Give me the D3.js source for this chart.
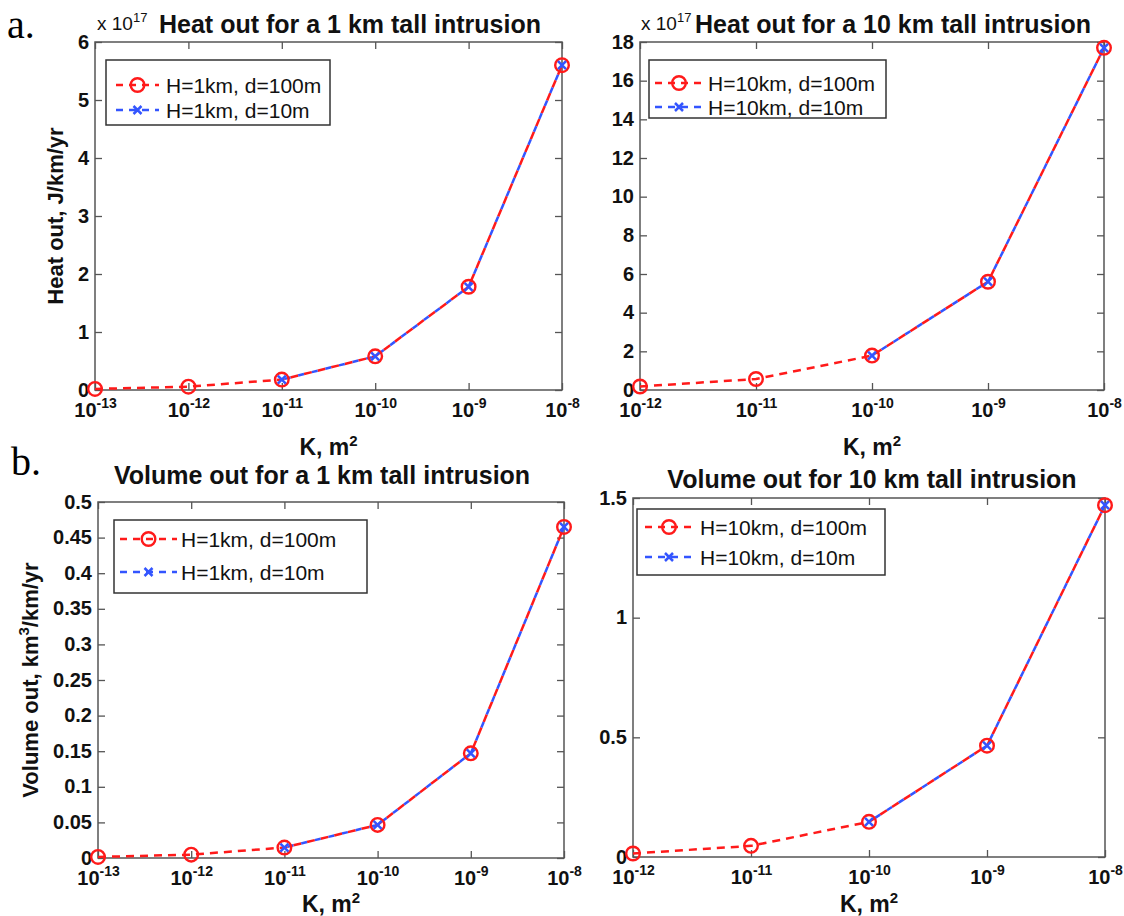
<!DOCTYPE html>
<html>
<head>
<meta charset="utf-8">
<script src="https://cdn.jsdelivr.net/npm/d3@7"></script>
<style>
  body { margin: 0; background: #fff; }
  svg { font-family: "Liberation Sans", Arial, sans-serif; }
</style>
</head>
<body>
<svg id="chart" width="1124" height="916"></svg>
<script>
// K values (m^2) and results
const kH1 = [1e-13, 1e-12, 1e-11, 1e-10, 1e-9, 1e-8];
const kH10 = [1e-12, 1e-11, 1e-10, 1e-9, 1e-8];
const kH1d10 = [1e-11, 1e-10, 1e-9, 1e-8];
const kH10d10 = [1e-10, 1e-9, 1e-8];

// heat out, x 10^17 J/km/yr
const heatH1d100 = [0.018, 0.057, 0.18, 0.58, 1.78, 5.6];
const heatH1d10 = [0.18, 0.58, 1.78, 5.6];
const heatH10d100 = [0.18, 0.57, 1.78, 5.6, 17.7];
const heatH10d10 = [1.78, 5.6, 17.7];

// volume out, km^3/km/yr
const volH1d100 = [0.0015, 0.0047, 0.0147, 0.0465, 0.147, 0.465];
const volH1d10 = [0.0147, 0.0465, 0.147, 0.465];
const volH10d100 = [0.0147, 0.0465, 0.147, 0.465, 1.47];
const volH10d10 = [0.147, 0.465, 1.47];

// tick values
const xTicksH1 = [1e-13, 1e-12, 1e-11, 1e-10, 1e-9, 1e-8];
const xTicksH10 = [1e-12, 1e-11, 1e-10, 1e-9, 1e-8];
const yTicksHeat1 = d3.range(0, 7, 1);
const yTicksHeat10 = d3.range(0, 20, 2);
const yTicksVol1 = d3.range(0, 11).map(i => i * 0.05);
const yTicksVol10 = [0, 0.5, 1, 1.5];

const legendH1 = ['H=1km, d=100m', 'H=1km, d=10m'];
const legendH10 = ['H=10km, d=100m', 'H=10km, d=10m'];

const RED = '#ff1a1a';
const BLUE = '#3355ff';
const AXIS = '#555';
const DASH = 8, GAP = 6;   // red dash pattern; blue fills the red gaps

const svg = d3.select('#chart');

const panels = [
  { left: 95, right: 562, top: 42, bottom: 390, xlabelY: 455,
    k: [kH1, kH1d10], v: [heatH1d100, heatH1d10],
    xTicks: xTicksH1, yTicks: yTicksHeat1, yMax: 6,
    title: 'Heat out for a 1 km tall intrusion', titleX: 350, titleY: 33,
    expo: true, expoX: 97,
    ylabel: 'Heat out, J/km/yr', ylabelX: 55,
    legend: legendH1, lg: { x: 106, y: 60, w: 224, h: 65, r1: 85, r2: 110, s0: 116, s1: 159, tx: 166 } },
  { left: 640, right: 1104, top: 42, bottom: 390, xlabelY: 455,
    k: [kH10, kH10d10], v: [heatH10d100, heatH10d10],
    xTicks: xTicksH10, yTicks: yTicksHeat10, yMax: 18,
    title: 'Heat out for a 10 km tall intrusion', titleX: 893, titleY: 33,
    expo: true, expoX: 641,
    legend: legendH10, lg: { x: 649, y: 60, w: 237, h: 58, r1: 83, r2: 107, s0: 655, s1: 703, tx: 708 } },
  { left: 98, right: 564, top: 502, bottom: 858, xlabelY: 912,
    k: [kH1, kH1d10], v: [volH1d100, volH1d10],
    xTicks: xTicksH1, yTicks: yTicksVol1, yMax: 0.5,
    title: 'Volume out for a 1 km tall intrusion', titleX: 322, titleY: 484,
    ylabel: 'Volume out, km', ylabelSup: '3', ylabelEnd: '/km/yr', ylabelX: 30,
    legend: legendH1, lg: { x: 114, y: 520, w: 253, h: 73, r1: 539, r2: 572, s0: 120, s1: 177, tx: 181 } },
  { left: 633, right: 1105, top: 498, bottom: 857, xlabelY: 912,
    k: [kH10, kH10d10], v: [volH10d100, volH10d10],
    xTicks: xTicksH10, yTicks: yTicksVol10, yMax: 1.5,
    title: 'Volume out for 10 km tall intrusion', titleX: 872, titleY: 488,
    legend: legendH10, lg: { x: 637, y: 509, w: 248, h: 66, r1: 527, r2: 557, s0: 645, s1: 693, tx: 700 } }
];

function drawCircle(g, cx, cy) {
  g.append('circle').attr('cx', cx).attr('cy', cy).attr('r', 6.8)
    .attr('fill', 'none').attr('stroke', RED).attr('stroke-width', 2.4);
}

function drawCross(g, cx, cy) {
  const s = 4;
  g.append('path')
    .attr('d', `M${cx - s},${cy - s}L${cx + s},${cy + s}M${cx - s},${cy + s}L${cx + s},${cy - s}`)
    .attr('stroke', BLUE).attr('stroke-width', 2.5);
}

function drawPanel(p) {
  const w = p.right - p.left, h = p.bottom - p.top;
  const g = svg.append('g').attr('transform', `translate(${p.left},${p.top})`);

  const x = d3.scaleLog().domain([p.xTicks[0], p.xTicks[p.xTicks.length - 1]]).range([0, w]);
  const y = d3.scaleLinear().domain([0, p.yMax]).range([h, 0]);

  // ticks (inside, mirrored on top/right)
  const xb = g.append('g').attr('transform', `translate(0,${h})`)
    .call(d3.axisBottom(x).tickValues(p.xTicks).tickSizeInner(-7).tickSizeOuter(0).tickFormat(''));
  g.append('g').call(d3.axisTop(x).tickValues(p.xTicks).tickSizeInner(-7).tickSizeOuter(0).tickFormat(''));
  const yl = g.append('g')
    .call(d3.axisLeft(y).tickValues(p.yTicks).tickSizeInner(-7).tickSizeOuter(0).tickPadding(6)
      .tickFormat(d => String(Math.round(d * 100) / 100)));
  g.append('g').attr('transform', `translate(${w},0)`)
    .call(d3.axisRight(y).tickValues(p.yTicks).tickSizeInner(-7).tickSizeOuter(0).tickFormat(''));

  g.selectAll('.domain').remove();
  g.selectAll('.tick line').attr('stroke', AXIS).attr('stroke-width', 1.3);

  yl.selectAll('.tick text')
    .attr('font-size', 20).attr('font-weight', 'bold').attr('fill', '#111')
    .attr('font-family', '"Liberation Sans", Arial, sans-serif')
    .attr('dy', '0.3em');

  xb.selectAll('.tick').each(function (d) {
    const t = d3.select(this).select('text')
      .attr('font-size', 20).attr('font-weight', 'bold').attr('fill', '#111')
      .attr('font-family', '"Liberation Sans", Arial, sans-serif')
      .attr('y', 27).attr('dy', 0).text(null);
    t.append('tspan').text('10');
    t.append('tspan').attr('font-size', 14).attr('dy', -9)
      .text(String(Math.round(Math.log10(d))));
  });

  g.append('rect').attr('width', w).attr('height', h)
    .attr('fill', 'none').attr('stroke', AXIS).attr('stroke-width', 1.5);

  // series: red d=100m with circles, blue d=10m with crosses
  const line = d3.line().x(d => x(d[0])).y(d => y(d[1]));
  const red = p.k[0].map((k, i) => [k, p.v[0][i]]);
  const blue = p.k[1].map((k, i) => [k, p.v[1][i]]);

  // red path length up to the first blue point, so blue dashes land in red gaps
  let lenBefore = 0;
  for (let i = 1; i < red.length && red[i - 1][0] < blue[0][0]; i++) {
    lenBefore += Math.hypot(x(red[i][0]) - x(red[i - 1][0]), y(red[i][1]) - y(red[i - 1][1]));
  }
  const period = DASH + GAP;
  const blueOffset = ((lenBefore - DASH) % period + period) % period;

  g.append('path').datum(red).attr('d', line)
    .attr('fill', 'none').attr('stroke', RED).attr('stroke-width', 2.5)
    .attr('stroke-dasharray', `${DASH},${GAP}`);
  g.append('path').datum(blue).attr('d', line)
    .attr('fill', 'none').attr('stroke', BLUE).attr('stroke-width', 2.5)
    .attr('stroke-dasharray', `${GAP},${DASH}`).attr('stroke-dashoffset', blueOffset);

  red.forEach(d => drawCircle(g, x(d[0]), y(d[1])));
  blue.forEach(d => drawCross(g, x(d[0]), y(d[1])));

  // title
  svg.append('text').attr('x', p.titleX).attr('y', p.titleY)
    .attr('text-anchor', 'middle').attr('font-size', 25).attr('font-weight', 'bold')
    .attr('fill', '#111').text(p.title);

  if (p.expo) {
    const e = svg.append('text').attr('x', p.expoX).attr('y', 30)
      .attr('font-size', 19).attr('fill', '#111');
    e.append('tspan').text('x 10');
    e.append('tspan').attr('font-size', 13).attr('dy', -8).text('17');
  }

  // axis labels
  const xl = svg.append('text').attr('x', (p.left + p.right) / 2).attr('y', p.xlabelY)
    .attr('text-anchor', 'middle').attr('font-size', 23).attr('font-weight', 'bold').attr('fill', '#111');
  xl.append('tspan').text('K, m');
  xl.append('tspan').attr('font-size', 15).attr('dy', -9).text('2');

  if (p.ylabel) {
    const cy = (p.top + p.bottom) / 2;
    const t = svg.append('text')
      .attr('transform', `translate(${p.ylabelX + 8},${cy}) rotate(-90)`)
      .attr('text-anchor', 'middle').attr('font-size', 22).attr('font-weight', 'bold').attr('fill', '#111');
    t.append('tspan').text(p.ylabel);
    if (p.ylabelSup) {
      t.append('tspan').attr('font-size', 15).attr('dy', -9).text(p.ylabelSup);
      t.append('tspan').attr('dy', 9).text(p.ylabelEnd);
    }
  }

  // legend
  const L = p.lg;
  svg.append('rect').attr('x', L.x).attr('y', L.y).attr('width', L.w).attr('height', L.h)
    .attr('fill', '#fff').attr('stroke', '#333').attr('stroke-width', 1.5);
  [L.r1, L.r2].forEach((ry, i) => {
    const col = i === 0 ? RED : BLUE;
    svg.append('line').attr('x1', L.s0).attr('x2', L.s1).attr('y1', ry).attr('y2', ry)
      .attr('stroke', col).attr('stroke-width', 2.5).attr('stroke-dasharray', '7,6');
    const mx = (L.s0 + L.s1) / 2;
    if (i === 0) drawCircle(svg, mx, ry); else drawCross(svg, mx, ry);
    svg.append('text').attr('x', L.tx).attr('y', ry + 7.5)
      .attr('font-size', 21).attr('fill', '#111').text(p.legend[i]);
  });
}

panels.forEach(drawPanel);

// panel letters
svg.append('text').attr('x', 7).attr('y', 38)
  .attr('font-family', '"Liberation Serif", "Times New Roman", serif').attr('font-size', 40).text('a.');
svg.append('text').attr('x', 11).attr('y', 475)
  .attr('font-family', '"Liberation Serif", "Times New Roman", serif').attr('font-size', 40).text('b.');
</script>
</body>
</html>
